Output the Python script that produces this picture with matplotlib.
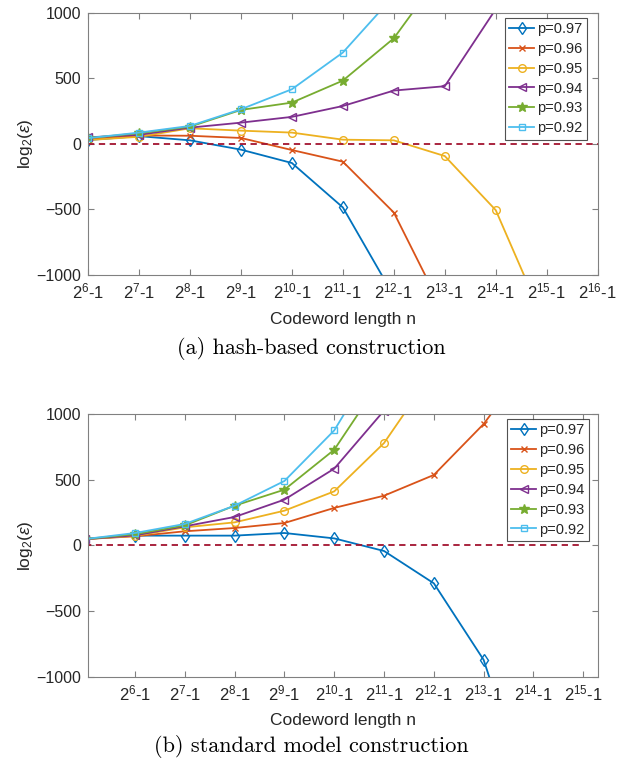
import matplotlib
matplotlib.use("Agg")
import matplotlib.pyplot as plt

plt.rcParams['font.family'] = ['Liberation Sans', 'DejaVu Sans']
plt.rcParams['mathtext.fontset'] = 'custom'
plt.rcParams['mathtext.rm'] = 'Liberation Sans'
plt.rcParams['mathtext.it'] = 'Liberation Sans:italic'

labels = ['p=0.97', 'p=0.96', 'p=0.95', 'p=0.94', 'p=0.93', 'p=0.92']
colors = ['#0072BD', '#D95319', '#EDB120', '#7E2F8E', '#77AC30', '#4DBEEE']
markers = ['d', 'x', 'o', '<', '*', 's']

# (a) hash-based construction: exponent k of n = 2^k - 1
a_exp = [6, 7, 8, 9, 10, 11, 12, 13, 14, 15]
a_p97 = [30, 60, 28, -43, -145, -484, -1160]
a_p96 = [35, 65, 63, 46, -46, -135, -523, -1300]
a_p95 = [30, 55, 120, 102, 87, 33, 28, -92, -505, -1400]
a_p94 = [51, 70, 125, 163, 207, 290, 408, 441, 1030]
a_p93 = [45, 82, 132, 260, 316, 484, 807, 1340]
a_p92 = [45, 87, 138, 265, 418, 698, 1130]
a_ticks = [6, 7, 8, 9, 10, 11, 12, 13, 14, 15, 16]

# (b) standard model construction
b_exp = [5, 6, 7, 8, 9, 10, 11, 12, 13, 14]
b_p97 = [48, 74, 74, 74, 94, 53, -43, -289, -872, -2030]
b_p96 = [48, 69, 107, 132, 170, 285, 378, 536, 924, 1430]
b_p95 = [48, 72, 137, 175, 264, 411, 779, 1330]
b_p94 = [48, 76, 145, 216, 348, 584, 1026]
b_p93 = [48, 85, 152, 302, 424, 728, 1295]
b_p92 = [48, 94, 163, 302, 490, 875, 1500]
b_ticks = [6, 7, 8, 9, 10, 11, 12, 13, 14, 15]

W, H = 623, 761
fig = plt.figure(figsize=(W / 100, H / 100), dpi=100)
ax1 = fig.add_axes([88 / W, 1 - 275 / H, 509.7 / W, 262 / H])
ax2 = fig.add_axes([88 / W, 1 - 676.7 / H, 509.7 / W, 262.7 / H])

msizes = {'d': 6, 'x': 5, 'o': 5.5, '<': 5.5, '*': 7, 's': 5}


def draw(ax, xs, series, ticks, xlim, dash_range, anchor):
    for ys, c, m, lab in zip(series, colors, markers, labels):
        ax.plot(xs[:len(ys)], ys, color=c, marker=m, lw=1.3, ms=msizes[m],
                mfc='none' if m not in ('*', 'x') else c, mew=1.0, label=lab)
    ax.plot(dash_range, [0, 0], color='#A2142F', ls=(0, (3.5, 2.5)), lw=1.3)
    ax.set_xlim(*xlim)
    ax.set_ylim(-1000, 1000)
    ax.set_yticks([-1000, -500, 0, 500, 1000])
    ax.set_xticks(ticks)
    ax.set_xticklabels([r'$2^{%d}$-1' % t for t in ticks])
    for s in ax.spines.values():
        s.set_color('#808080')
        s.set_linewidth(0.8)
    ax.tick_params(direction='in', top=True, right=True, length=4, width=0.8,
                   colors='#808080', labelcolor='#262626', labelsize=11.5)
    ax.tick_params(axis='x', labelsize=12, pad=5)
    ax.tick_params(axis='y', pad=5)
    ax.set_ylabel(r'log$_2$($\epsilon$)', fontsize=12.5, color='#262626', labelpad=1)
    leg = ax.legend(loc='upper right', bbox_to_anchor=anchor, borderaxespad=0,
                    fontsize=10.5, frameon=True, fancybox=False,
                    handlelength=1.75, handletextpad=0.2, borderpad=0.3, labelspacing=0.4)
    leg.get_frame().set_edgecolor('#262626')
    leg.get_frame().set_linewidth(0.8)
    for t in leg.get_texts():
        t.set_color('#262626')


draw(ax1, a_exp, [a_p97, a_p96, a_p95, a_p94, a_p93, a_p92], a_ticks, (6, 16), [6, 16],
     (0.979, 0.982))
draw(ax2, b_exp, [b_p97, b_p96, b_p95, b_p94, b_p93, b_p92], b_ticks, (5.056, 15.29), [5, 15],
     (0.983, 0.981))

fig.text(343 / W, 1 - 320 / H, 'Codeword length n', ha='center', va='center', fontsize=12.5, color='#262626')
fig.text(343 / W, 1 - 720 / H, 'Codeword length n', ha='center', va='center', fontsize=12.5, color='#262626')
fig.text(0.5, 1 - 349 / H, '(a) hash-based construction', ha='center', va='center',
         fontsize=16, family=['cmr10', 'DejaVu Serif'])
fig.text(0.5, 1 - 746 / H, '(b) standard model construction', ha='center', va='center',
         fontsize=16, family=['cmr10', 'DejaVu Serif'])

fig.savefig('out.png', dpi=100)
